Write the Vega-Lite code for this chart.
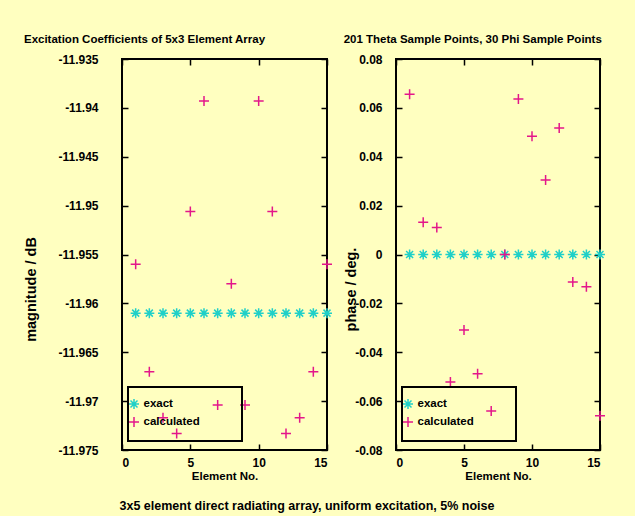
{
  "$schema": "https://vega.github.io/schema/vega-lite/v6.json",
  "background": "#FFFFC0",
  "padding": {"left": 22, "top": 32, "right": 26, "bottom": 4},
  "datasets": {
    "magnitude": [
      {"element": 1, "series": "exact", "value": -11.961},
      {"element": 2, "series": "exact", "value": -11.961},
      {"element": 3, "series": "exact", "value": -11.961},
      {"element": 4, "series": "exact", "value": -11.961},
      {"element": 5, "series": "exact", "value": -11.961},
      {"element": 6, "series": "exact", "value": -11.961},
      {"element": 7, "series": "exact", "value": -11.961},
      {"element": 8, "series": "exact", "value": -11.961},
      {"element": 9, "series": "exact", "value": -11.961},
      {"element": 10, "series": "exact", "value": -11.961},
      {"element": 11, "series": "exact", "value": -11.961},
      {"element": 12, "series": "exact", "value": -11.961},
      {"element": 13, "series": "exact", "value": -11.961},
      {"element": 14, "series": "exact", "value": -11.961},
      {"element": 15, "series": "exact", "value": -11.961},
      {"element": 1, "series": "calculated", "value": -11.956},
      {"element": 2, "series": "calculated", "value": -11.967},
      {"element": 3, "series": "calculated", "value": -11.9717},
      {"element": 4, "series": "calculated", "value": -11.9733},
      {"element": 5, "series": "calculated", "value": -11.9506},
      {"element": 6, "series": "calculated", "value": -11.9393},
      {"element": 7, "series": "calculated", "value": -11.9704},
      {"element": 8, "series": "calculated", "value": -11.958},
      {"element": 9, "series": "calculated", "value": -11.9704},
      {"element": 10, "series": "calculated", "value": -11.9393},
      {"element": 11, "series": "calculated", "value": -11.9506},
      {"element": 12, "series": "calculated", "value": -11.9733},
      {"element": 13, "series": "calculated", "value": -11.9717},
      {"element": 14, "series": "calculated", "value": -11.967},
      {"element": 15, "series": "calculated", "value": -11.956}
    ],
    "phase": [
      {"element": 1, "series": "exact", "value": 0},
      {"element": 2, "series": "exact", "value": 0},
      {"element": 3, "series": "exact", "value": 0},
      {"element": 4, "series": "exact", "value": 0},
      {"element": 5, "series": "exact", "value": 0},
      {"element": 6, "series": "exact", "value": 0},
      {"element": 7, "series": "exact", "value": 0},
      {"element": 8, "series": "exact", "value": 0},
      {"element": 9, "series": "exact", "value": 0},
      {"element": 10, "series": "exact", "value": 0},
      {"element": 11, "series": "exact", "value": 0},
      {"element": 12, "series": "exact", "value": 0},
      {"element": 13, "series": "exact", "value": 0},
      {"element": 14, "series": "exact", "value": 0},
      {"element": 15, "series": "exact", "value": 0},
      {"element": 1, "series": "calculated", "value": 0.0656},
      {"element": 2, "series": "calculated", "value": 0.0132},
      {"element": 3, "series": "calculated", "value": 0.011},
      {"element": 4, "series": "calculated", "value": -0.0522},
      {"element": 5, "series": "calculated", "value": -0.0309},
      {"element": 6, "series": "calculated", "value": -0.0488},
      {"element": 7, "series": "calculated", "value": -0.064},
      {"element": 8, "series": "calculated", "value": 0},
      {"element": 9, "series": "calculated", "value": 0.0636},
      {"element": 10, "series": "calculated", "value": 0.0484},
      {"element": 11, "series": "calculated", "value": 0.0305},
      {"element": 12, "series": "calculated", "value": 0.0518},
      {"element": 13, "series": "calculated", "value": -0.0113},
      {"element": 14, "series": "calculated", "value": -0.0132},
      {"element": 15, "series": "calculated", "value": -0.066}
    ]
  },
  "title": {
    "text": "3x5 element direct radiating array, uniform excitation, 5% noise",
    "orient": "bottom",
    "anchor": "middle",
    "offset": 17,
    "dx": -9,
    "font": "Liberation Sans",
    "fontSize": 12.5,
    "fontWeight": "bold",
    "color": "black"
  },
  "spacing": 6,
  "hconcat": [
    {
      "title": {"text": "Excitation Coefficients of 5x3 Element Array"},
      "width": 205,
      "height": 391,
      "data": {"name": "magnitude"},
      "layer": [
        {
          "mark": {"type": "point", "filled": false, "size": 100, "strokeWidth": 1.5, "opacity": 1},
          "encoding": {
            "x": {
              "field": "element", "type": "quantitative",
              "scale": {"domain": [0, 15], "nice": false, "zero": false},
              "axis": {"values": [0, 5, 10, 15], "title": "Element No."}
            },
            "y": {
              "field": "value", "type": "quantitative",
              "scale": {"domain": [-11.975, -11.935], "nice": false, "zero": false},
              "axis": {
                "values": [-11.975, -11.97, -11.965, -11.96, -11.955, -11.95, -11.945, -11.94, -11.935],
                "format": ".3~f",
                "title": "magnitude / dB",
                "titleFontSize": 14.5,
                "titleY": 230,
                "labelPadding": 30,
                "titlePadding": 19
              }
            },
            "color": {
              "field": "series", "type": "nominal",
              "scale": {"domain": ["exact", "calculated"], "range": ["#1FD0C8", "#E3178A"]},
              "legend": {"title": "\u00a0", "legendX": 6, "legendY": 328}
            },
            "shape": {
              "field": "series", "type": "nominal",
              "scale": {"domain": ["exact", "calculated"], "range": ["M-1,0H1M0,-1V1M-0.7,-0.7L0.7,0.7M-0.7,0.7L0.7,-0.7", "M-1,0H1M0,-1V1"]},
              "legend": {"title": "\u00a0", "legendX": 6, "legendY": 328}
            }
          }
        },
        {
          "mark": {"type": "point", "opacity": 0},
          "encoding": {
            "x": {"field": "element", "type": "quantitative", "axis": {"orient": "top", "labels": false, "title": null, "values": [0, 5, 10, 15]}},
            "y": {"field": "value", "type": "quantitative", "axis": {"orient": "right", "labels": false, "title": null, "values": [-11.975, -11.97, -11.965, -11.96, -11.955, -11.95, -11.945, -11.94, -11.935]}}
          }
        }
      ],
      "resolve": {"axis": {"x": "independent", "y": "independent"}}
    },
    {
      "title": {"text": "201 Theta Sample Points, 30 Phi Sample Points"},
      "width": 204,
      "height": 391,
      "data": {"name": "phase"},
      "layer": [
        {
          "mark": {"type": "point", "filled": false, "size": 100, "strokeWidth": 1.5, "opacity": 1},
          "encoding": {
            "x": {
              "field": "element", "type": "quantitative",
              "scale": {"domain": [0, 15], "nice": false, "zero": false},
              "axis": {"values": [0, 5, 10, 15], "title": "Element No."}
            },
            "y": {
              "field": "value", "type": "quantitative",
              "scale": {"domain": [-0.08, 0.08], "nice": false, "zero": false},
              "axis": {
                "values": [-0.08, -0.06, -0.04, -0.02, 0, 0.02, 0.04, 0.06, 0.08],
                "format": ".2~f",
                "title": "phase / deg.",
                "titleFontSize": 14.5,
                "titleY": 230,
                "labelPadding": 20,
                "titlePadding": -4
              }
            },
            "color": {
              "field": "series", "type": "nominal",
              "scale": {"domain": ["exact", "calculated"], "range": ["#1FD0C8", "#E3178A"]},
              "legend": {"title": "\u00a0", "legendX": 6, "legendY": 328}
            },
            "shape": {
              "field": "series", "type": "nominal",
              "scale": {"domain": ["exact", "calculated"], "range": ["M-1,0H1M0,-1V1M-0.7,-0.7L0.7,0.7M-0.7,0.7L0.7,-0.7", "M-1,0H1M0,-1V1"]},
              "legend": {"title": "\u00a0", "legendX": 6, "legendY": 328}
            }
          }
        },
        {
          "mark": {"type": "point", "opacity": 0},
          "encoding": {
            "x": {"field": "element", "type": "quantitative", "axis": {"orient": "top", "labels": false, "title": null, "values": [0, 5, 10, 15]}},
            "y": {"field": "value", "type": "quantitative", "axis": {"orient": "right", "labels": false, "title": null, "values": [-0.08, -0.06, -0.04, -0.02, 0, 0.02, 0.04, 0.06, 0.08]}}
          }
        }
      ],
      "resolve": {"axis": {"x": "independent", "y": "independent"}}
    }
  ],
  "resolve": {
    "scale": {"color": "independent", "shape": "independent"},
    "legend": {"color": "independent", "shape": "independent"}
  },
  "config": {
    "locale": {"number": {"decimal": ".", "thousands": ",", "grouping": [3], "currency": ["$", ""], "minus": "-"}},
    "font": "Liberation Sans",
    "view": {"stroke": "black", "strokeWidth": 2},
    "title": {"anchor": "start", "frame": "bounds", "font": "Liberation Sans", "fontSize": 11.5, "fontWeight": "bold", "color": "black", "offset": 8},
    "axis": {
      "domain": false,
      "grid": false,
      "tickSize": -6,
      "tickColor": "black",
      "tickWidth": 1.5,
      "labelFont": "Liberation Sans",
      "labelFontSize": 12,
      "labelFontWeight": "bold",
      "labelColor": "black",
      "titleFont": "Liberation Sans",
      "titleFontWeight": "bold",
      "titleColor": "black"
    },
    "axisX": {"labelPadding": 13, "titlePadding": 2, "titleFontSize": 11.5},
    "legend": {
      "orient": "none",
      "titleOrient": "right",
      "titlePadding": 31,
      "titleFontSize": 11.5,
      "strokeColor": "black",
      "strokeWidth": 2,
      "padding": 11,
      "rowPadding": 2,
      "symbolOffset": -11,
      "labelOffset": 3.5,
      "symbolSize": 100,
      "symbolStrokeWidth": 1.5,
      "labelFont": "Liberation Sans",
      "labelFontSize": 11.5,
      "labelFontWeight": "bold",
      "labelColor": "black"
    }
  }
}
